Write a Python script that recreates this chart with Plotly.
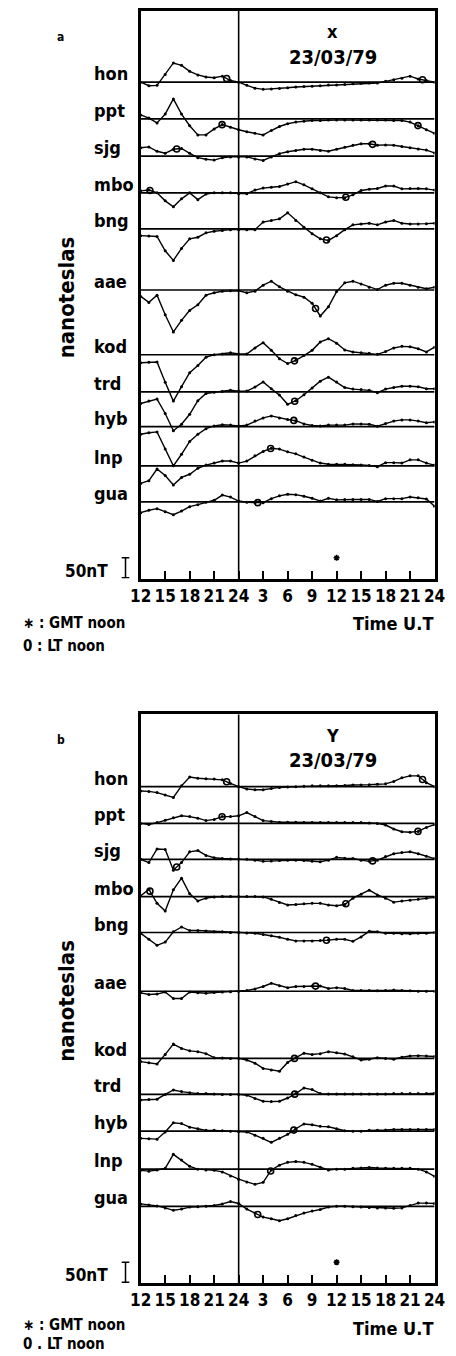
import numpy as np
import plotly.graph_objects as go

# ---------------- data ----------------
hours = list(range(12, 49))
tick_vals = [12, 15, 18, 21, 24, 27, 30, 33, 36, 39, 42, 45, 48]
tick_text = ["12", "15", "18", "21", "24", "3", "6", "9", "12", "15", "18", "21", "24"]
stations = ["hon", "ppt", "sjg", "mbo", "bng", "aae", "kod", "trd", "hyb", "lnp", "gua"]
# UT hour of local-time noon at each station
lt_noon_ut = [22.53, 21.97, 16.41, 13.13, 10.76, 9.42, 6.84, 6.87, 6.76, 3.92, 2.34]
gmt_noon = 36
scale_nt = 50

# X component (nT), hourly 12 UT (22/03) .. 24 UT (23/03)
hon_x = [0, -9, -8, 19, 48, 42, 27, 18, 13, 11, 15, 4, 0, -8, -15, -18, -17, -16, -14, -12, -11, -10, -9, -7, -7, -6, -4, -3, -2, -2, 2, 6, 10, 15, 8, 4, 0]
ppt_x = [10, 2, -10, 12, 50, 12, -17, -40, -40, -25, -14, -21, -27, -32, -36, -40, -29, -19, -12, -8, -6, -4, -4, -3, -3, -3, -3, -3, -3, -3, -3, -4, -4, -8, -17, -27, -36]
sjg_x = [21, 23, 12, 7, 17, 19, 7, -4, -8, -10, -4, -2, -2, -2, -7, -11, -2, 6, 11, 14, 17, 17, 14, 12, 17, 22, 27, 31, 31, 27, 28, 27, 24, 21, 18, 15, 8]
mbo_x = [5, 7, 0, -20, -35, -15, 0, -17, -3, 0, 0, 0, -2, -2, 7, 12, 14, 16, 22, 28, 20, 10, 0, -10, -12, -12, -5, 6, 9, 11, 17, 17, 10, 11, 11, 10, 7]
bng_x = [-17, -18, -19, -55, -79, -49, -25, -21, -10, -6, -4, -2, -2, -2, -2, 17, 21, 25, 40, 21, 4, -12, -25, -29, -17, -2, 10, 12, 14, 10, 17, 21, 14, 12, 12, 13, 14]
aae_x = [-16, -31, -13, -62, -105, -76, -51, -37, -13, -7, -3, -2, -2, -7, -3, 12, 22, 8, -3, -12, -18, -33, -65, -42, -4, 18, 22, 15, 7, 1, 12, 17, 17, 12, 7, 3, 7]
kod_x = [-20, -19, -18, -69, -116, -80, -45, -27, -6, 0, 2, 5, 2, 2, 17, 30, 11, -10, -22, -14, -2, 11, 32, 40, 29, 12, 7, 5, 4, 1, 8, 17, 21, 20, 15, 7, 19]
trd_x = [-29, -23, -18, -54, -97, -81, -56, -22, -4, -1, 1, 4, 2, 2, 12, 25, 8, -8, -31, -22, -7, 10, 27, 37, 25, 11, 7, 6, 4, -2, 7, 11, 14, 14, 13, 8, 8]
hyb_x = [-19, -15, -13, -56, -98, -69, -37, -19, -5, 2, 5, 4, 2, 4, 14, 22, 27, 22, 18, 15, 7, 3, 2, 4, 4, 4, 7, 7, 6, 1, 8, 14, 17, 17, 14, 10, 12]
lnp_x = [-44, -37, -8, -24, -48, -29, -21, -6, 2, 7, 12, 12, 7, 12, 25, 36, 44, 42, 35, 30, 22, 14, 7, 4, 4, 4, 3, 2, 1, -2, 8, 8, 7, 15, 15, 7, 2]
gua_x = [-27, -21, -17, -25, -32, -23, -12, -7, -1, 4, 17, 12, 2, -1, -2, -2, 8, 15, 19, 18, 14, 9, 2, 9, 5, 6, 6, 6, 6, 1, 8, 8, 8, 12, 10, 7, -11]

# Y component (nT)
hon_y = [-11, -12, -15, -21, -27, 2, 24, 21, 20, 19, 17, 8, 0, -6, -8, -8, -5, -2, -1, 0, 1, 2, 2, 2, 2, 3, 4, 4, 5, 6, 7, 13, 22, 27, 27, 10, 0]
ppt_y = [0, -3, 2, 8, 14, 19, 17, 13, 7, 10, 17, 17, 19, 27, 17, 7, 5, 3, 3, 3, 2, 2, 2, 2, 2, 2, 2, 2, 1, 0, -4, -14, -21, -22, -20, -10, -3]
sjg_y = [0, -8, 26, 25, -27, -8, 19, 22, 10, 4, 2, 1, 1, 0, -2, -5, -4, -3, -2, -2, -3, -5, -6, -2, 5, 3, 2, -2, -5, -2, 7, 14, 17, 19, 14, 8, 2]
mbo_y = [2, 18, -17, -36, 17, 46, 7, -11, -4, -1, 0, 0, 0, 0, 0, -1, -7, -15, -21, -20, -18, -17, -17, -21, -23, -20, -4, 6, 16, 4, -4, -14, -11, -9, -7, -4, -2]
bng_y = [-2, -17, -32, -24, 2, 14, 5, 5, 4, 2, 2, 0, 0, -1, -2, -5, -8, -12, -17, -21, -21, -21, -20, -19, -17, -17, -22, -11, 3, 2, -2, -2, -3, -3, -2, -2, 0]
aae_y = [-4, -8, -7, -2, -18, -18, -2, -4, -5, -3, -2, -1, 0, 2, 6, 12, 20, 14, 9, 12, 12, 13, 13, 7, 9, 7, 2, 2, 2, 1, 2, 3, 2, 1, 0, 0, 0]
kod_y = [-8, -11, -14, 10, 36, 25, 19, 17, 12, 2, 1, 0, 0, -4, -12, -25, -29, -32, -10, 2, 13, 10, 12, 17, 14, 11, 4, -4, -2, 2, 0, -2, 3, 6, 7, 6, 5]
trd_y = [-14, -13, -12, 0, 11, 7, 4, 2, 2, 1, 0, 0, 0, -2, -10, -17, -18, -17, -9, 2, 16, 12, 2, 1, 1, 1, 1, 1, 1, 1, 1, 2, 2, 2, 2, 2, 3]
hyb_y = [-18, -19, -20, -2, 21, 19, 10, 6, 2, 2, 1, 0, -1, -2, -10, -18, -28, -18, -8, 6, 18, 16, 12, 11, 6, 1, 0, 0, 2, 2, 3, 4, 4, 4, 4, 4, 4]
lnp_y = [-3, -5, -2, 2, 37, 23, 7, 0, -2, -3, -7, -17, -25, -32, -38, -33, -2, 10, 17, 19, 17, 12, 5, -2, 0, 0, 2, 3, 4, 3, 2, 2, 2, 2, 0, -7, -18]
gua_y = [6, 3, 1, -4, -10, -7, -2, -1, 0, 2, 6, 12, 7, -7, -17, -27, -31, -36, -31, -23, -17, -12, -8, -2, 0, 0, -1, -2, -3, -4, -4, -5, -4, 2, 8, 8, 7]

series_x = [hon_x, ppt_x, sjg_x, mbo_x, bng_x, aae_x, kod_x, trd_x, hyb_x, lnp_x, gua_x]
series_y = [hon_y, ppt_y, sjg_y, mbo_y, bng_y, aae_y, kod_y, trd_y, hyb_y, lnp_y, gua_y]

# ---------------- layout constants ----------------
PAGE_OFF = 8                      # default body margin of the html page
W, H = 456 - PAGE_OFF, 1356 - PAGE_OFF
FONT = "DejaVu Sans Condensed, Liberation Sans Narrow, Arial Narrow, sans-serif"
PX_PER_NT = 0.4
panels = [
    dict(top=10, bottom=578, offsets=[1242, 1150, 1057, 965, 875, 722, 560, 467, 380, 282, 192],
         comp="x", letter="a", series=series_x, xa="x", ya="y", lt_label="0 : LT noon", leg=(44, 67)),
    dict(top=714, bottom=1283, offsets=[1242, 1150, 1060, 967, 877, 730, 562, 472, 380, 285, 192],
         comp="Y", letter="b", series=series_y, xa="x2", ya="y2", lt_label="0 . LT noon", leg=(42, 61)),
]
X0, X1 = 136, 445


def fx(v):  # page pixel x -> paper fraction
    return (v - PAGE_OFF) / W


def fy(v):  # page pixel y -> paper fraction
    return 1 - (v - PAGE_OFF) / H


def b(s):
    return "<b>" + s + "</b>"


fig = go.Figure()
shapes, annotations = [], []

for p in panels:
    for name, vals, off, lt in zip(stations, p["series"], p["offsets"], lt_noon_ut):
        yv = [v + off for v in vals]
        fig.add_trace(go.Scatter(x=hours, y=yv, mode="lines+markers", xaxis=p["xa"], yaxis=p["ya"],
                                 line=dict(color="black", width=1.4), marker=dict(size=3, color="black"),
                                 showlegend=False, hoverinfo="skip"))
        mh = [h for h in (lt, lt + 24, lt + 48) if 12 <= h <= 48]
        my = [float(np.interp(h, hours, vals)) + off for h in mh]
        fig.add_trace(go.Scatter(x=mh, y=my, mode="markers", xaxis=p["xa"], yaxis=p["ya"],
                                 marker=dict(symbol="circle-open", size=6, color="black", line=dict(width=1.6)),
                                 showlegend=False, hoverinfo="skip"))
        shapes.append(dict(type="line", xref=p["xa"], yref=p["ya"], x0=hours[0], x1=hours[-1], y0=off, y1=off,
                           line=dict(color="black", width=1.7)))
        annotations.append(dict(text=b(name), xref="paper", yref=p["ya"], x=fx(85), y=off, xanchor="left",
                                yanchor="bottom", yshift=-4, showarrow=False,
                                font=dict(family=FONT, size=18, color="black")))
    # GMT noon mark
    fig.add_trace(go.Scatter(x=[gmt_noon], y=[52], mode="markers", xaxis=p["xa"], yaxis=p["ya"],
                             marker=dict(symbol="asterisk-open", size=5, color="black", line=dict(width=1.5)),
                             showlegend=False, hoverinfo="skip"))
    # vertical day separator
    shapes.append(dict(type="line", xref=p["xa"], yref="paper", x0=24, x1=24,
                       y0=fy(p["bottom"]), y1=fy(p["top"]), line=dict(color="black", width=1.6)))
    # scale bar (50 nT)
    bx = fx(120)
    shapes.append(dict(type="line", xref="paper", yref=p["ya"], x0=bx, x1=bx, y0=2, y1=scale_nt + 2,
                       line=dict(color="black", width=1.5)))
    for yy in (2, scale_nt + 2):
        shapes.append(dict(type="line", xref="paper", yref=p["ya"], x0=bx - 4 / W, x1=bx + 4 / W, y0=yy, y1=yy,
                           line=dict(color="black", width=1.5)))
    t = p["top"]
    bt = p["bottom"]
    txt = [
        (p["letter"], 52, t + 26, 12, "center"),
        (p["comp"], 338, t + 21, 18, "center"),
        ("23/03/79", 338, t + 46, 20, "center"),
        ("50nT", 104, bt - 8, 17, "right"),
        ("\u2217 : GMT noon", 10, bt + p["leg"][0], 15, "left"),
        (p["lt_label"], 10, bt + p["leg"][1], 15, "left"),
        ("Time U.T", 445, bt + 45, 18, "right"),
    ]
    for s, x, y, sz, anc in txt:
        annotations.append(dict(text=b(s), xref="paper", yref="paper", x=fx(x), y=fy(y), xanchor=anc,
                                yanchor="middle", showarrow=False, font=dict(family=FONT, size=sz, color="black")))
    annotations.append(dict(text=b("nanoteslas"), xref="paper", yref="paper", x=fx(58), y=fy(t + 287),
                            textangle=-90, xanchor="center", yanchor="middle", showarrow=False,
                            font=dict(family=FONT, size=22, color="black")))

axis_common = dict(showline=True, mirror=True, linecolor="black", linewidth=2.5, showgrid=False, zeroline=False)
layout = dict(width=W, height=H, autosize=False, margin=dict(l=0, r=0, t=0, b=0),
              paper_bgcolor="white", plot_bgcolor="white", shapes=shapes, annotations=annotations)
for p in panels:
    xk = "xaxis" if p["xa"] == "x" else "xaxis2"
    yk = "yaxis" if p["ya"] == "y" else "yaxis2"
    layout[xk] = dict(axis_common, domain=[fx(X0), fx(X1)], range=[12, 48], tickmode="array",
                      tickvals=tick_vals, ticktext=[b(s) for s in tick_text], ticks="inside", ticklen=8,
                      tickwidth=1.5, tickcolor="black", anchor=p["ya"],
                      tickfont=dict(family=FONT, size=17, color="black"))
    layout[yk] = dict(axis_common, domain=[fy(p["bottom"]), fy(p["top"])],
                      range=[0, (p["bottom"] - p["top"]) / PX_PER_NT], showticklabels=False, ticks="",
                      anchor=p["xa"])
fig.update_layout(**layout)
fig.write_html("out.html")
